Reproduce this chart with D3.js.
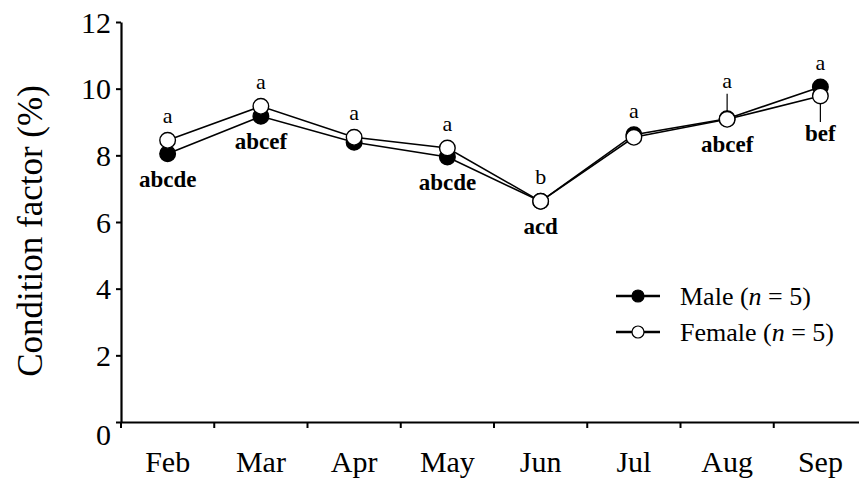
<!DOCTYPE html>
<html>
<head>
<meta charset="utf-8">
<script src="https://cdn.jsdelivr.net/npm/d3@7"></script>
<style>
  body { margin: 0; background: #fff; }
  svg { display: block; }
  text { font-family: 'Liberation Serif', 'Times New Roman', serif; fill: #000; }
</style>
</head>
<body>
<svg id="chart" width="859" height="485"></svg>
<script>
// chart data
var months = ['Feb', 'Mar', 'Apr', 'May', 'Jun', 'Jul', 'Aug', 'Sep']
var maleValues = [8.05, 9.17, 8.39, 7.95, 6.62, 8.62, 9.10, 10.05]
var maleErr = [0.15, 0.12, 0.12, 0.15, 0.1, 0.12, 0.75, 0.12]
var femaleValues = [8.45, 9.47, 8.54, 8.22, 6.62, 8.54, 9.08, 9.78]
var femaleErr = [0.15, 0.12, 0.12, 0.12, 0.1, 0.12, 0.12, 0.78]
var topLabels = ['a', 'a', 'a', 'a', 'b', 'a', 'a', 'a']
var bottomLabels = ['abcde', 'abcef', '', 'abcde', 'acd', '', 'abcef', 'bef']
var yTicks = [0, 2, 4, 6, 8, 10, 12]

var svg = d3.select('#chart')

var xScale = d3.scaleBand()
    .domain(months)
    .range([121, 867])
var yScale = d3.scaleLinear()
    .domain([0, 12])
    .range([422, 22])

var cx = function(i) { return xScale(months[i]) + xScale.bandwidth() / 2 }

// y axis
var yAxis = d3.axisLeft(yScale)
    .tickValues(yTicks)
    .tickSize(5)
    .tickSizeOuter(0)
    .tickPadding(5)
var gy = svg.append('g')
    .attr('transform', 'translate(121,0)')
    .call(yAxis)
gy.select('.domain').attr('stroke-width', 2.2)
gy.selectAll('.tick line').attr('stroke-width', 2)
gy.selectAll('.tick text')
    .style('font-size', '30px')
    .attr('dy', function(d) { return d === 0 ? '0.75em' : '0.34em' })

// x axis
var xAxis = d3.axisBottom(xScale)
    .tickSize(0)
    .tickPadding(29)
var gx = svg.append('g')
    .attr('transform', 'translate(0,422)')
    .call(xAxis)
gx.select('.domain').attr('stroke-width', 2.2)
gx.selectAll('.tick text').style('font-size', '30px')
// ticks at band edges
gx.selectAll('line.edge')
    .data(months)
    .enter()
    .append('line')
    .attr('class', 'edge')
    .attr('x1', (d) => xScale(d))
    .attr('x2', (d) => xScale(d))
    .attr('y1', 0)
    .attr('y2', 6)
    .attr('stroke', '#000')
    .attr('stroke-width', 2)

// y title
svg.append('text')
    .attr('transform', 'translate(42,231) rotate(-90)')
    .attr('text-anchor', 'middle')
    .style('font-size', '35px')
    .text('Condition factor (%)')

var line = d3.line()
    .x((d, i) => cx(i))
    .y((d) => yScale(d))

var plot = svg.append('g')

// error bars: male upward, female downward
plot.selectAll('line.errM')
    .data(maleValues)
    .enter()
    .append('line')
    .attr('x1', (d, i) => cx(i))
    .attr('x2', (d, i) => cx(i))
    .attr('y1', (d) => yScale(d))
    .attr('y2', (d, i) => yScale(d + maleErr[i]))
    .attr('stroke', '#000')
    .attr('stroke-width', 1.2)
plot.selectAll('line.errF')
    .data(femaleValues)
    .enter()
    .append('line')
    .attr('x1', (d, i) => cx(i))
    .attr('x2', (d, i) => cx(i))
    .attr('y1', (d) => yScale(d))
    .attr('y2', (d, i) => yScale(d - femaleErr[i]))
    .attr('stroke', '#000')
    .attr('stroke-width', 1.2)

plot.append('path')
    .datum(maleValues)
    .attr('d', line)
    .attr('fill', 'none')
    .attr('stroke', '#000')
    .attr('stroke-width', 1.6)
plot.append('path')
    .datum(femaleValues)
    .attr('d', line)
    .attr('fill', 'none')
    .attr('stroke', '#000')
    .attr('stroke-width', 1.6)

plot.selectAll('circle.male')
    .data(maleValues)
    .enter()
    .append('circle')
    .attr('cx', (d, i) => cx(i))
    .attr('cy', (d) => yScale(d))
    .attr('r', 7.8)
    .attr('fill', '#000')
    .attr('stroke', '#000')
    .attr('stroke-width', 1.4)
plot.selectAll('circle.female')
    .data(femaleValues)
    .enter()
    .append('circle')
    .attr('cx', (d, i) => cx(i))
    .attr('cy', (d) => yScale(d))
    .attr('r', 7.8)
    .attr('fill', '#fff')
    .attr('stroke', '#000')
    .attr('stroke-width', 1.4)

// significance letters
plot.selectAll('text.top')
    .data(topLabels)
    .enter()
    .append('text')
    .attr('x', (d, i) => cx(i))
    .attr('y', function(d, i) {
        var hi = Math.max(maleValues[i], femaleValues[i])
        return Math.min(yScale(hi) - 17, yScale(maleValues[i] + maleErr[i]) - 6)
    })
    .attr('text-anchor', 'middle')
    .style('font-size', '22px')
    .text((d) => d)
plot.selectAll('text.bottom')
    .data(bottomLabels)
    .enter()
    .append('text')
    .attr('x', (d, i) => cx(i))
    .attr('y', function(d, i) {
        var lo = Math.min(maleValues[i], femaleValues[i])
        return Math.max(yScale(lo) + 33, yScale(femaleValues[i] - femaleErr[i]) + 19)
    })
    .attr('text-anchor', 'middle')
    .style('font-size', '23px')
    .style('font-weight', 'bold')
    .text((d) => d)

// legend
var legend = [{ name: 'Male', fill: '#000' }, { name: 'Female', fill: '#fff' }]
var lg = svg.append('g').attr('transform', 'translate(616,296)')
var items = lg.selectAll('g')
    .data(legend)
    .enter()
    .append('g')
    .attr('transform', (d, i) => 'translate(0,' + (i * 36) + ')')
items.append('line')
    .attr('x1', 0)
    .attr('x2', 44)
    .attr('stroke', '#000')
    .attr('stroke-width', 2.4)
items.append('circle')
    .attr('cx', 22)
    .attr('r', 6)
    .attr('fill', (d) => d.fill)
    .attr('stroke', '#000')
    .attr('stroke-width', 1.2)
var lt = items.append('text')
    .attr('x', 64)
    .attr('y', 9)
    .style('font-size', '26px')
lt.append('tspan').text((d) => d.name + ' (')
lt.append('tspan').style('font-style', 'italic').text('n')
lt.append('tspan').text(' = 5)')
</script>
</body>
</html>
